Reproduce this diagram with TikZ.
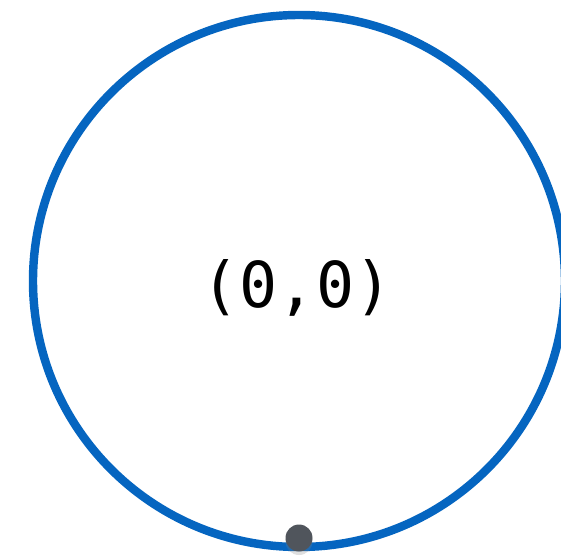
\documentclass[tikz,border=0pt]{standalone}
\usepackage{fontspec}
\setmonofont[RawFeature=+zero]{DejaVu Sans Mono}
\usetikzlibrary{shadows}

\begin{document}
\begin{tikzpicture}
    % Define colours
    \definecolor{ringColour}{HTML}{0565C0}
    \definecolor{pointColour}{HTML}{50555C}

    % Define ring size
    \def\ringRadius{5.32}

    % Fix the margins
    \useasboundingbox (0,0) rectangle (11.22,11.16);

    % Centre of the ring
    \coordinate (centre) at (5.98,5.54);

    % Draw the ring
    \draw[ringColour, line width=4.8pt] (centre) circle (\ringRadius);

    % Label the centre
    \node (origin) at (5.94,5.40) {\fontsize{36}{43}\selectfont\ttfamily (0,0)};

    % Point at the bottom of the ring
    \node[circle, fill=pointColour, minimum size=0.54cm, inner sep=0pt,
          drop shadow={opacity=0.25, shadow xshift=0pt, shadow yshift=-2pt}] (point) at (5.98,0.40) {};

\end{tikzpicture}
\end{document}
